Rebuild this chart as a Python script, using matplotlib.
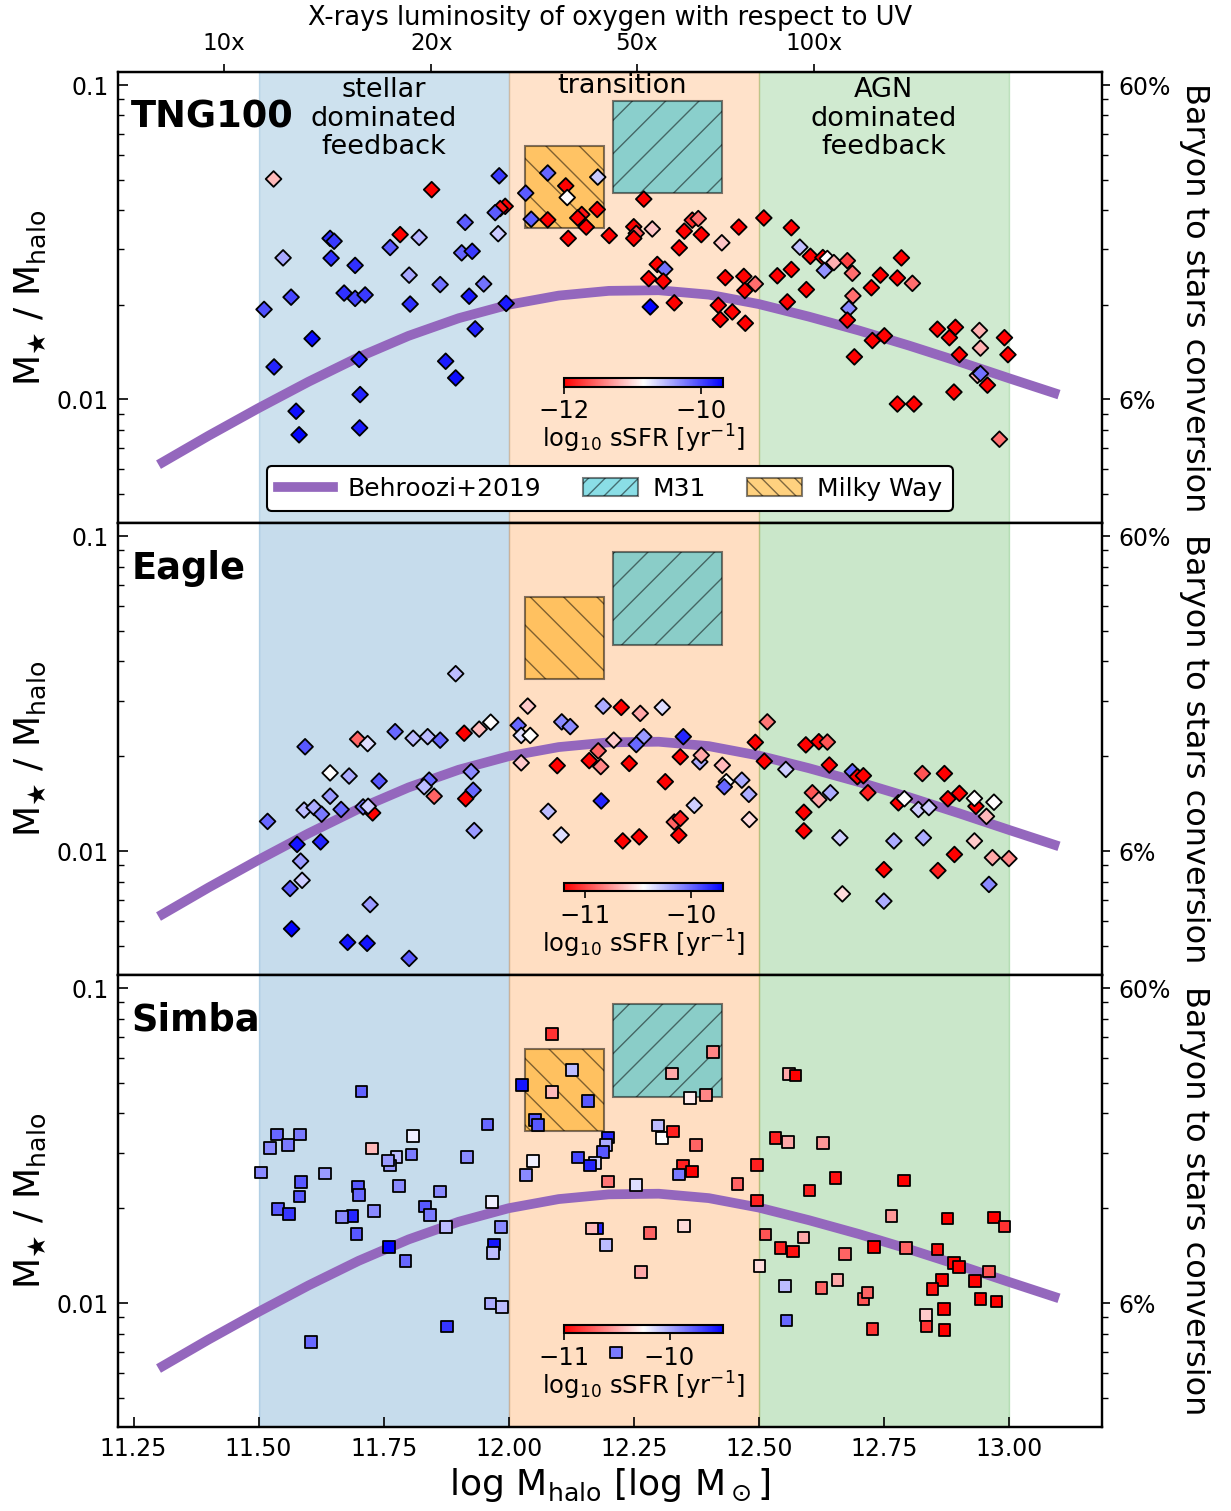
import numpy as np
import matplotlib
matplotlib.use("Agg")
import matplotlib.pyplot as plt
from matplotlib.patches import Rectangle, Patch
from matplotlib.lines import Line2D
from matplotlib.ticker import FixedLocator, FixedFormatter, NullFormatter, LogLocator
import matplotlib.transforms as mtransforms

# ---------------- data ----------------
# Behroozi+2019 relation: log Mhalo and log10(M*/Mhalo)
behroozi_mhalo = [11.3, 11.4, 11.5, 11.6, 11.7, 11.8, 11.9, 12.0, 12.1, 12.2, 12.3,
                  12.4, 12.5, 12.6, 12.7, 12.8, 12.9, 13.0, 13.1]
behroozi_logratio = [-2.208, -2.116, -2.028, -1.944, -1.866, -1.798, -1.742, -1.699,
                     -1.670, -1.655, -1.653, -1.667, -1.697, -1.737, -1.781, -1.829,
                     -1.880, -1.933, -1.985]

# M31 and Milky Way boxes: (log Mhalo range, M*/Mhalo range)
m31_mhalo = [12.209, 12.427]
m31_ratio = [0.0452, 0.0889]
mw_mhalo = [12.033, 12.191]
mw_ratio = [0.0351, 0.0641]

# TNG100
tng_mhalo = [11.530, 11.846, 11.981, 12.034, 12.078, 12.114, 12.117, 12.178, 11.993, 11.983,
             11.973, 11.913, 12.045, 12.078, 12.146, 12.138, 12.155, 12.177, 12.119, 12.201,
             11.979, 11.783, 11.821, 11.643, 11.651, 11.763, 11.549, 11.645, 11.693, 11.906,
             11.927, 11.801, 11.863, 11.950, 11.565, 11.671, 11.693, 11.713, 11.511, 11.803,
             11.921, 11.995, 11.607, 11.933, 11.531, 11.701, 11.874, 11.894, 11.703, 11.575,
             11.581, 11.702,
             12.270, 12.250, 12.255, 12.250, 12.287, 12.341, 12.351, 12.367, 12.379, 12.385,
             12.426, 12.460, 12.510, 12.565, 12.582, 12.603, 12.628, 12.637, 12.650, 12.677,
             12.631, 12.687, 12.785, 12.743, 12.777, 12.807, 12.725, 12.297, 12.312, 12.280,
             12.309, 12.433, 12.470, 12.472, 12.493, 12.537, 12.565, 12.595, 12.557, 12.688,
             12.680, 12.677, 12.283, 12.331, 12.419, 12.447, 12.423, 12.473, 12.727, 12.751,
             12.691, 12.857, 12.893, 12.881, 12.941, 12.943, 12.991, 12.998, 12.901, 12.937,
             12.943, 12.957, 12.890, 12.777, 12.810, 12.981]
tng_logratio = [-1.299, -1.333, -1.289, -1.344, -1.280, -1.321, -1.358, -1.293, -1.386, -1.393,
                -1.406, -1.437, -1.427, -1.429, -1.412, -1.423, -1.452, -1.396, -1.488, -1.479,
                -1.473, -1.476, -1.485, -1.488, -1.497, -1.517, -1.550, -1.551, -1.574, -1.534,
                -1.529, -1.605, -1.635, -1.633, -1.675, -1.662, -1.679, -1.668, -1.714, -1.697,
                -1.672, -1.695, -1.807, -1.776, -1.897, -1.873, -1.879, -1.932, -1.985, -2.038,
                -2.113, -2.091,
                -1.363, -1.451, -1.472, -1.488, -1.458, -1.518, -1.465, -1.430, -1.425, -1.476,
                -1.502, -1.452, -1.423, -1.454, -1.516, -1.545, -1.549, -1.552, -1.565, -1.559,
                -1.590, -1.599, -1.550, -1.605, -1.614, -1.631, -1.645, -1.571, -1.586, -1.616,
                -1.624, -1.613, -1.609, -1.654, -1.633, -1.607, -1.587, -1.651, -1.690, -1.671,
                -1.711, -1.748, -1.706, -1.693, -1.701, -1.722, -1.746, -1.758, -1.813, -1.798,
                -1.865, -1.777, -1.771, -1.804, -1.781, -1.837, -1.804, -1.858, -1.858, -1.924,
                -1.918, -1.955, -1.977, -2.015, -2.015, -2.127]
tng_ssfr = [-11.15, -12, -9.95, -10.1, -10.15, -12, -10.84, -10.6, -12, -11.9,
            -10.1, -10.1, -10.1, -12, -11.9, -12, -12, -12, -12, -12,
            -10.6, -12, -10.5, -9.9, -9.95, -10.1, -10.45, -9.9, -9.9, -10.15,
            -9.95, -10.45, -10.2, -10.2, -10.0, -9.9, -10.0, -9.95, -10.05, -9.9,
            -9.8, -9.8, -9.75, -9.85, -9.85, -9.85, -9.8, -9.75, -9.85, -9.75,
            -9.7, -9.8,
            -12, -12, -11.6, -12, -11.1, -12, -12, -11.8, -11.5, -12,
            -11.1, -12, -12, -12, -10.55, -12, -12, -10.84, -11.2, -11.7,
            -10.35, -11.5, -12, -12, -12, -11.5, -12, -12, -10.2, -12,
            -12, -12, -12, -12, -11.5, -12, -12, -12, -12, -11.5,
            -10.3, -12, -9.7, -12, -12, -12, -12, -12, -12, -12,
            -12, -12, -12, -12, -11.2, -11.2, -12, -12, -12, -11.2,
            -10.2, -12, -12, -12, -12, -11.5]

# Eagle
eagle_mhalo = [11.894, 12.038, 12.189, 12.019, 12.025, 12.043, 12.106, 12.123, 11.964, 11.941,
               11.911, 11.773, 11.809, 11.838, 11.863, 11.698, 11.718, 11.593, 12.179, 12.161,
               12.184, 12.025, 12.097, 11.643, 11.681, 11.741, 11.925, 11.841, 11.831, 11.851,
               11.929, 11.914, 11.643, 11.518, 11.591, 11.611, 11.626, 11.665, 11.709, 11.728,
               11.719, 11.931, 12.185, 12.079, 12.105, 11.577, 11.624, 11.584, 11.587, 11.563,
               11.723, 11.566, 11.678, 11.717, 11.801,
               12.225, 12.263, 12.307, 12.210, 12.270, 12.255, 12.349, 12.241, 12.343, 12.382,
               12.385, 12.313, 12.427, 12.435, 12.431, 12.466, 12.480, 12.371, 12.331, 12.343,
               12.228, 12.261, 12.340, 12.481, 12.493, 12.511, 12.517, 12.554, 12.594, 12.620,
               12.637, 12.641, 12.687, 12.697, 12.709, 12.718, 12.607, 12.620, 12.643, 12.590,
               12.590, 12.662, 12.667, 12.750, 12.750, 12.770, 12.779, 12.791, 12.819, 12.840,
               12.827, 12.871, 12.829, 12.878, 12.901, 12.934, 12.931, 12.970, 12.955, 12.931,
               12.891, 12.858, 12.967, 13.000, 12.960]
eagle_logratio = [-1.437, -1.540, -1.540, -1.601, -1.633, -1.633, -1.590, -1.605, -1.591, -1.613,
                  -1.626, -1.621, -1.642, -1.637, -1.648, -1.645, -1.659, -1.669, -1.682, -1.713,
                  -1.732, -1.720, -1.729, -1.752, -1.762, -1.778, -1.748, -1.775, -1.796, -1.826,
                  -1.807, -1.834, -1.826, -1.906, -1.870, -1.862, -1.883, -1.868, -1.860, -1.879,
                  -1.858, -1.935, -1.841, -1.874, -1.949, -1.979, -1.971, -2.032, -2.093, -2.119,
                  -2.170, -2.247, -2.290, -2.293, -2.341,
                  -1.544, -1.563, -1.544, -1.648, -1.637, -1.662, -1.637, -1.722, -1.701, -1.717,
                  -1.696, -1.780, -1.728, -1.780, -1.796, -1.775, -1.820, -1.855, -1.908, -1.897,
                  -1.968, -1.955, -1.950, -1.900, -1.655, -1.715, -1.590, -1.741, -1.663, -1.653,
                  -1.654, -1.727, -1.748, -1.764, -1.761, -1.815, -1.815, -1.837, -1.815, -1.877,
                  -1.936, -1.958, -2.136, -2.059, -2.159, -1.968, -1.847, -1.834, -1.868, -1.862,
                  -1.754, -1.754, -1.958, -1.834, -1.817, -1.858, -1.833, -1.845, -1.890, -1.968,
                  -2.011, -2.062, -2.021, -2.024, -2.106]
eagle_ssfr = [-10.25, -10.6, -10.2, -10.0, -10.35, -10.45, -10.1, -10.1, -10.45, -10.65,
              -11.2, -10.0, -10.25, -10.25, -10.0, -10.9, -10.35, -9.95, -10.9, -11.2,
              -10.8, -10.6, -11.2, -10.45, -10.2, -9.95, -10.1, -10.0, -10.25, -10.9,
              -10.0, -11.2, -10.15, -10.0, -10.25, -10.2, -10.05, -10.0, -10.05, -11.2,
              -10.3, -10.15, -9.8, -10.25, -10.35, -9.75, -9.8, -10.15, -10.3, -9.95,
              -10.15, -9.7, -9.75, -9.75, -9.95,
              -11.2, -10.7, -10.35, -10.6, -10.15, -10.0, -9.8, -11.2, -11.2, -10.2,
              -10.7, -11.2, -10.65, -10.45, -10.0, -10.2, -10.2, -10.3, -10.9, -11.1,
              -11.2, -11.2, -11.2, -10.55, -11.2, -11.2, -10.85, -10.3, -11.2, -11.2,
              -10.95, -11.2, -10.0, -11.2, -11.2, -11.1, -10.95, -10.7, -10.2, -11.2,
              -11.2, -10.3, -10.55, -11.2, -10.2, -10.2, -11.2, -10.45, -10.3, -10.3,
              -10.95, -11.2, -10.2, -11.2, -11.2, -11.2, -10.45, -10.45, -10.65, -10.6,
              -11.2, -11.1, -10.7, -10.8, -10.1]

# Simba
simba_mhalo = [12.086, 11.706, 12.026, 12.126, 12.087, 12.159, 11.958, 12.053, 12.059, 12.199,
               12.194, 12.189, 12.139, 12.173, 12.162, 12.049, 12.034, 12.199, 11.537, 11.583,
               11.523, 11.559, 11.505, 11.633, 11.585, 11.582, 11.539, 11.561, 11.727, 11.809,
               11.776, 11.763, 11.759, 11.806, 11.917, 11.699, 11.701, 11.781, 11.863, 11.688,
               11.667, 11.731, 11.833, 11.843, 11.696, 11.967, 11.875, 11.985, 11.761, 11.971,
               11.969, 11.794, 12.176, 12.166, 12.194, 11.964, 11.987, 11.877, 11.605, 12.215,
               12.408, 12.327, 12.363, 12.394, 12.560, 12.573, 12.298, 12.307, 12.329, 12.374,
               12.254, 12.349, 12.367, 12.341, 12.457, 12.496, 12.496, 12.533, 12.558, 12.628,
               12.653, 12.601, 12.790, 12.283, 12.350, 12.265, 12.513, 12.543, 12.568, 12.589,
               12.501, 12.552, 12.555, 12.672, 12.730, 12.625, 12.657, 12.709, 12.717, 12.727,
               12.765, 12.794, 12.877, 12.857, 12.890, 12.900, 12.866, 12.847, 12.960, 12.970,
               12.991, 12.932, 12.943, 12.975, 12.870, 12.834, 12.835, 12.871]
simba_logratio = [-1.145, -1.329, -1.308, -1.261, -1.331, -1.359, -1.433, -1.419, -1.435, -1.475,
                  -1.499, -1.520, -1.538, -1.555, -1.563, -1.550, -1.594, -1.614, -1.465, -1.465,
                  -1.507, -1.499, -1.586, -1.589, -1.616, -1.662, -1.701, -1.717, -1.510, -1.470,
                  -1.536, -1.563, -1.547, -1.529, -1.537, -1.630, -1.658, -1.628, -1.646, -1.724,
                  -1.726, -1.708, -1.694, -1.720, -1.781, -1.679, -1.759, -1.759, -1.822, -1.814,
                  -1.842, -1.866, -1.764, -1.764, -1.815, -2.001, -2.012, -2.074, -2.124, -2.157,
                  -1.204, -1.271, -1.350, -1.340, -1.273, -1.278, -1.437, -1.476, -1.456, -1.499,
                  -1.626, -1.563, -1.582, -1.592, -1.622, -1.561, -1.674, -1.476, -1.488, -1.492,
                  -1.603, -1.643, -1.611, -1.778, -1.756, -1.902, -1.782, -1.825, -1.837, -1.792,
                  -1.883, -1.946, -2.056, -1.844, -1.823, -1.953, -1.927, -1.987, -1.966, -2.083,
                  -1.723, -1.825, -1.732, -1.830, -1.873, -1.886, -1.926, -1.955, -1.900, -1.728,
                  -1.757, -1.931, -1.987, -1.995, -2.019, -2.038, -2.074, -2.085]
simba_ssfr = [-10.85, -9.78, -9.55, -10.05, -10.45, -9.75, -9.8, -9.75, -9.75, -9.6,
              -10.0, -9.75, -9.7, -10.1, -9.6, -10.2, -9.9, -10.65, -9.8, -9.85,
              -9.9, -9.85, -9.9, -9.95, -9.75, -9.75, -9.75, -9.65, -10.45, -10.2,
              -10.05, -9.95, -9.95, -9.85, -9.9, -9.75, -9.8, -9.9, -9.9, -9.6,
              -9.9, -9.9, -9.75, -9.85, -9.75, -10.2, -10.05, -9.9, -9.5, -9.55,
              -10.05, -9.8, -9.6, -10.45, -10.05, -10.0, -10.05, -9.65, -9.8, -9.85,
              -10.6, -10.5, -10.3, -10.6, -10.5, -11.0, -10.05, -10.25, -10.9, -10.7,
              -10.15, -10.9, -11.0, -9.85, -10.7, -10.9, -10.9, -10.9, -10.5, -10.55,
              -10.95, -10.9, -11.0, -10.7, -10.35, -10.5, -10.75, -10.9, -10.95, -10.5,
              -10.35, -10.05, -9.8, -10.7, -11.0, -10.7, -10.5, -10.75, -10.7, -10.85,
              -10.55, -10.7, -11.0, -10.95, -11.0, -11.0, -11.0, -10.95, -10.75, -11.0,
              -10.85, -11.0, -11.0, -11.0, -11.0, -10.4, -10.85, -11.0]

panel_names = ["TNG100", "Eagle", "Simba"]
ssfr_limits = [(-12.0, -9.68), (-11.2, -9.69), (-11.0, -9.49)]
cbar_ticks = [[-12, -10], [-11, -10], [-11, -10]]

top_tick_pos = [11.431, 11.845, 12.256, 12.611]
top_tick_labels = ["10x", "20x", "50x", "100x"]
region_bounds = [11.5, 12.0, 12.5, 13.0]

# ---------------- figure ----------------
fig = plt.figure(figsize=(12.31, 15.11), dpi=100)
L, W = 0.09626, 0.79895
bottoms = [0.65387, 0.35473, 0.05559]
heights = [0.29848, 0.29914, 0.29914]

mhalos = [tng_mhalo, eagle_mhalo, simba_mhalo]
ratios = [tng_logratio, eagle_logratio, simba_logratio]
ssfrs = [tng_ssfr, eagle_ssfr, simba_ssfr]
markers = ["D", "D", "s"]
sizes = [64, 64, 70]
cbar_y = [0.302, 0.185, 0.207]
bg_alpha = [0.22, 0.25, 0.25]

purple = "#9467bd"
XLIM = (11.22, 13.186)
YLIM = (0.00404, 0.110)
TICK_FS = 17

for i in range(3):
    ax = fig.add_axes([L, bottoms[i], W, heights[i]])
    ax.set_yscale("log")
    a = bg_alpha[i]
    ax.axvspan(region_bounds[0], region_bounds[1], color="tab:blue", alpha=a, zorder=0)
    ax.axvspan(region_bounds[1], region_bounds[2], color="tab:orange", alpha=a, zorder=0)
    ax.axvspan(region_bounds[2], region_bounds[3], color="tab:green", alpha=a, zorder=0)

    ax.plot(behroozi_mhalo, 10 ** np.array(behroozi_logratio), color=purple, lw=7,
            solid_capstyle="butt", solid_joinstyle="round", zorder=3)

    r1 = Rectangle((m31_mhalo[0], m31_ratio[0]), m31_mhalo[1] - m31_mhalo[0],
                   m31_ratio[1] - m31_ratio[0], facecolor=(0.09, 0.745, 0.812, 0.5),
                   edgecolor=(0, 0, 0, 0.5), hatch="/", lw=1.5, zorder=2)
    r2 = Rectangle((mw_mhalo[0], mw_ratio[0]), mw_mhalo[1] - mw_mhalo[0],
                   mw_ratio[1] - mw_ratio[0], facecolor=(1.0, 0.647, 0.0, 0.5),
                   edgecolor=(0, 0, 0, 0.5), hatch="\\", lw=1.5, zorder=2)
    ax.add_patch(r1)
    ax.add_patch(r2)

    vmin, vmax = ssfr_limits[i]
    sc = ax.scatter(mhalos[i], 10 ** np.array(ratios[i]), c=ssfrs[i], cmap="bwr_r",
                    vmin=vmin, vmax=vmax, marker=markers[i], s=sizes[i],
                    edgecolors="black", linewidths=1.3, zorder=5)

    ax.set_xlim(*XLIM)
    ax.set_ylim(*YLIM)

    ax.yaxis.set_major_locator(FixedLocator([0.01, 0.1]))
    ax.yaxis.set_major_formatter(FixedFormatter(["0.01", "0.1"]))
    ax.yaxis.set_minor_locator(LogLocator(base=10, subs=np.arange(2, 10) * 1.0))
    ax.yaxis.set_minor_formatter(NullFormatter())
    ax.tick_params(axis="y", which="major", direction="in", length=7, width=1.2,
                   labelsize=TICK_FS, pad=7, right=False)
    ax.tick_params(axis="y", which="minor", direction="in", length=4, width=1.0, right=False)
    ax.set_ylabel(r"M$_\bigstar$ / M$_{\rm halo}$", fontsize=26, labelpad=6)
    for sp in ax.spines.values():
        sp.set_linewidth(1.6)

    if i < 2:
        ax.tick_params(axis="x", which="both", bottom=False, labelbottom=False)
    else:
        ax.set_xticks([11.25, 11.5, 11.75, 12.0, 12.25, 12.5, 12.75, 13.0])
        ax.set_xticklabels(["11.25", "11.50", "11.75", "12.00", "12.25", "12.50",
                            "12.75", "13.00"])
        ax.tick_params(axis="x", direction="in", length=7, width=1.2, labelsize=TICK_FS,
                       pad=7)
        ax.set_xlabel(r"log M$_{\rm halo}$ [log M$_\odot$]", fontsize=26, labelpad=4)

    # right axis
    ax2 = ax.twinx()
    ax2.set_yscale("log")
    ax2.set_ylim(*YLIM)
    ax2.yaxis.set_major_locator(FixedLocator([0.01, 0.1]))
    ax2.yaxis.set_major_formatter(FixedFormatter(["6%", "60%"]))
    ax2.yaxis.set_minor_locator(LogLocator(base=10, subs=np.arange(2, 10) * 1.0))
    ax2.yaxis.set_minor_formatter(NullFormatter())
    ax2.tick_params(axis="y", which="major", direction="out", length=6, width=1.2,
                    labelsize=TICK_FS, pad=6)
    ax2.tick_params(axis="y", which="minor", direction="out", length=4, width=1.0)
    ax2.set_ylabel("Baryon to stars conversion", fontsize=23, rotation=270, labelpad=28)
    for sp in ax2.spines.values():
        sp.set_linewidth(1.6)

    # panel name
    ax.text(0.013, 0.877, panel_names[i], transform=ax.transAxes, fontsize=26.5,
            fontweight="bold", va="baseline", ha="left", zorder=6)

    # colour bar
    cax = ax.inset_axes([0.453, cbar_y[i], 0.162, 0.0186])
    cb = fig.colorbar(sc, cax=cax, orientation="horizontal")
    cb.set_ticks(cbar_ticks[i])
    cb.ax.tick_params(labelsize=17.5, length=5, width=1.2, direction="out", pad=4)
    cb.outline.set_linewidth(1.5)
    cb.set_label(r"log$_{10}$ sSFR [yr$^{-1}$]", fontsize=17.5, labelpad=0)

    if i == 0:
        trans = mtransforms.blended_transform_factory(ax.transData, ax.transAxes)
        ax.text(11.75, 0.989, "stellar\ndominated\nfeedback", transform=trans,
                ha="center", va="top", fontsize=19.5, linespacing=1.13, zorder=6)
        ax.text(12.227, 0.998, "transition", transform=trans,
                ha="center", va="top", fontsize=19.5, zorder=6)
        ax.text(12.75, 0.989, "AGN\ndominated\nfeedback", transform=trans,
                ha="center", va="top", fontsize=19.5, linespacing=1.13, zorder=6)

        handles = [Line2D([0], [0], color=purple, lw=7),
                   Patch(facecolor=(0.09, 0.745, 0.812, 0.5), edgecolor=(0, 0, 0, 0.5),
                         hatch="//", lw=1.5),
                   Patch(facecolor=(1.0, 0.647, 0.0, 0.5), edgecolor=(0, 0, 0, 0.5),
                         hatch="\\\\", lw=1.5)]
        leg = ax.legend(handles, ["Behroozi+2019", "M31", "Milky Way"], loc="lower center",
                        bbox_to_anchor=(0.5, 0.026), borderaxespad=0.0, ncol=3,
                        fontsize=18, frameon=True, framealpha=1, edgecolor="black",
                        fancybox=True, handlelength=2.2, handletextpad=0.6,
                        columnspacing=1.65, borderpad=0.42)
        leg.get_frame().set_linewidth(1.5)
        leg.set_zorder(7)

        sec = ax.secondary_xaxis("top")
        sec.set_xticks(top_tick_pos)
        sec.set_xticklabels(top_tick_labels)
        sec.tick_params(direction="out", length=6, width=1.2, labelsize=16.5, pad=6)
        sec.set_xlabel("X-rays luminosity of oxygen with respect to UV", fontsize=18.5,
                       labelpad=5)

fig.savefig("out.png", dpi=100)
